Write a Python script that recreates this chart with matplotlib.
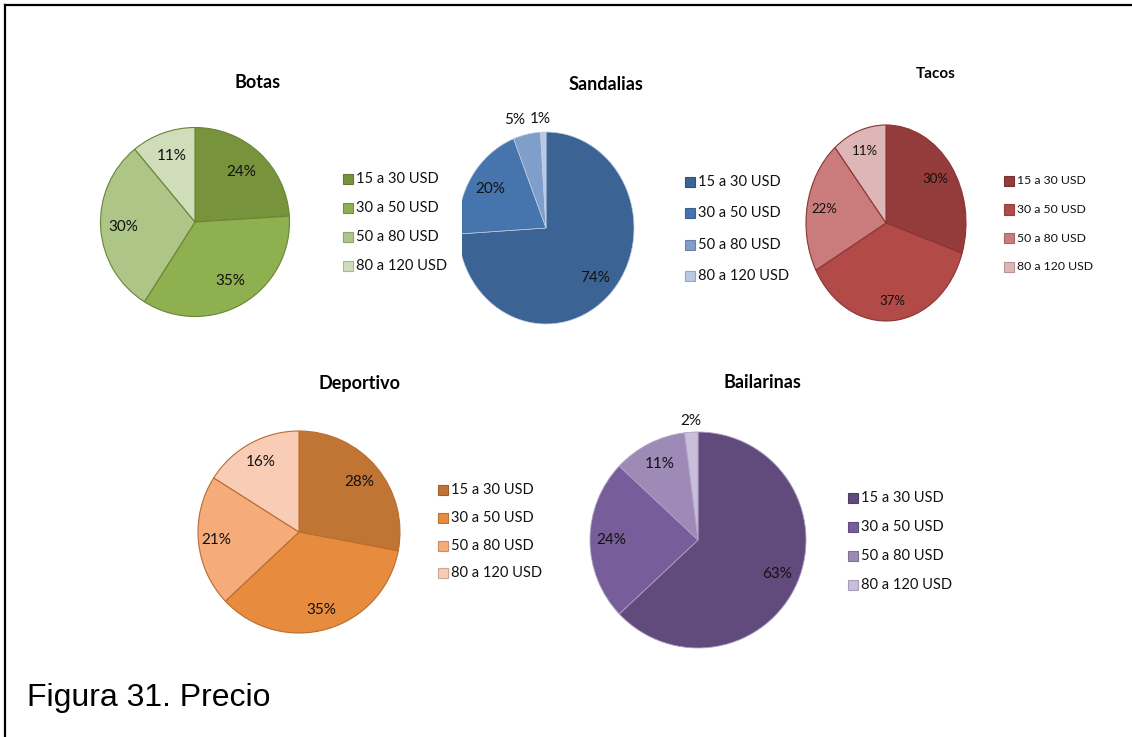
import numpy as np
import matplotlib
matplotlib.use("Agg")
import matplotlib.pyplot as plt
from matplotlib.lines import Line2D
from matplotlib.patches import Rectangle
from matplotlib.colors import to_rgb

W, H = 1132, 737

rangos = ["15 a 30 USD", "30 a 50 USD", "50 a 80 USD", "80 a 120 USD"]

botas = [24, 35, 30, 11]
sandalias = [74, 20, 5, 1]
tacos = [30, 37, 22, 11]
deportivo = [28, 35, 21, 16]
bailarinas = [63, 24, 11, 2]

plt.rcParams["font.family"] = "Lato"

fig = plt.figure(figsize=(W / 100, H / 100), dpi=100)


def fx(x):
    return x / W


def fy(y):
    return 1 - y / H


def darker(c, k=0.82):
    return tuple(v * k for v in to_rgb(c))


def pie_block(title, vals, colors, edge, cx, cy, rx, ry, title_xy, key_xy, pitch,
              dists, shifts=None, clip_left=None, fs=10.5, pfs=11, tfs=13, elw=0.8):
    # axes box in pixels; the pie may be cut on the left side
    left = cx - rx - 4 if clip_left is None else clip_left
    right, top, bottom = cx + rx + 4, cy - ry - 4, cy + ry + 4
    ax = fig.add_axes([fx(left), fy(bottom), (right - left) / W, (bottom - top) / H])
    wedges, _ = ax.pie(vals, colors=colors, startangle=90, counterclock=False,
                       wedgeprops=dict(edgecolor=edge, linewidth=elw))
    ax.set_aspect("auto")
    ax.set_xlim((left - cx) / rx, (right - cx) / rx)
    ax.set_ylim((cy - bottom) / ry, (cy - top) / ry)
    for w in wedges:
        w.set_clip_on(True)
        w.set_clip_path(ax.patch)

    shifts = shifts or [0] * len(vals)
    for w, v, d, s in zip(wedges, vals, dists, shifts):
        a = np.deg2rad((w.theta1 + w.theta2) / 2)
        ax.text(d * np.cos(a) + s / rx, d * np.sin(a), f"{v}%",
                ha="center", va="center", fontsize=pfs, color="#111111")

    fig.text(fx(title_xy[0]), fy(title_xy[1]), title, ha="center", va="center",
             fontsize=tfs, fontweight="bold")

    kx, ky = key_xy
    for i, (lab, c) in enumerate(zip(rangos, colors)):
        y = ky + i * pitch
        fig.add_artist(Rectangle((fx(kx), fy(y + 5)), 10 / W, 10 / H,
                                 transform=fig.transFigure, facecolor=c,
                                 edgecolor=darker(c), linewidth=0.8))
        fig.text(fx(kx + 13), fy(y), lab, va="center", fontsize=fs, color="#111111")


pie_block("Botas", botas,
          ["#77933C", "#8EB04F", "#ADC688", "#D0DDBA"], "#6A8436",
          195, 222, 94.5, 94.5, (258, 83), (343, 179), 29,
          [0.72, 0.73, 0.76, 0.74])

pie_block("Sandalias", sandalias,
          ["#3B6495", "#4675AD", "#7F9ECA", "#B9C9E3"], "#BFCDE4",
          546, 228, 88, 96, (606, 85), (685, 182), 31.3,
          [0.76, 0.75, 1.15, 1.14], shifts=[0, 0, -9, -3], clip_left=462, elw=0.5)

pie_block("Tacos", tacos,
          ["#943B3B", "#B24A48", "#C97C7B", "#DEB6B6"], "#8A3534",
          886, 223, 80, 98, (936, 74), (1004, 181), 28.5,
          [0.77, 0.8, 0.78, 0.78], fs=8.8, pfs=9.5, tfs=11)

pie_block("Deportivo", deportivo,
          ["#C07535", "#E78C3F", "#F6AB7B", "#F9CDB5"], "#B96C2E",
          299, 532, 101, 101, (360, 383), (438, 490), 27.8,
          [0.77, 0.8, 0.82, 0.79])

pie_block("Bailarinas", bailarinas,
          ["#614B7C", "#775D9A", "#9D8AB6", "#C9BFDA"], "#AE9FC6",
          698, 540, 108, 108, (762, 383), (848, 498), 29,
          [0.8, 0.8, 0.79, 1.1], elw=0.6)

fig.text(fx(27), fy(706), "Figura 31. Precio", fontsize=23,
         family="Liberation Sans", va="baseline")

# frame lines along the top and left edges
fig.add_artist(Line2D([fx(5), fx(5)], [fy(5), 0], transform=fig.transFigure,
                      color="black", linewidth=1.6))
fig.add_artist(Line2D([fx(5), 1], [fy(5), fy(5)], transform=fig.transFigure,
                      color="black", linewidth=1.6))

fig.savefig("out.png", dpi=100)
